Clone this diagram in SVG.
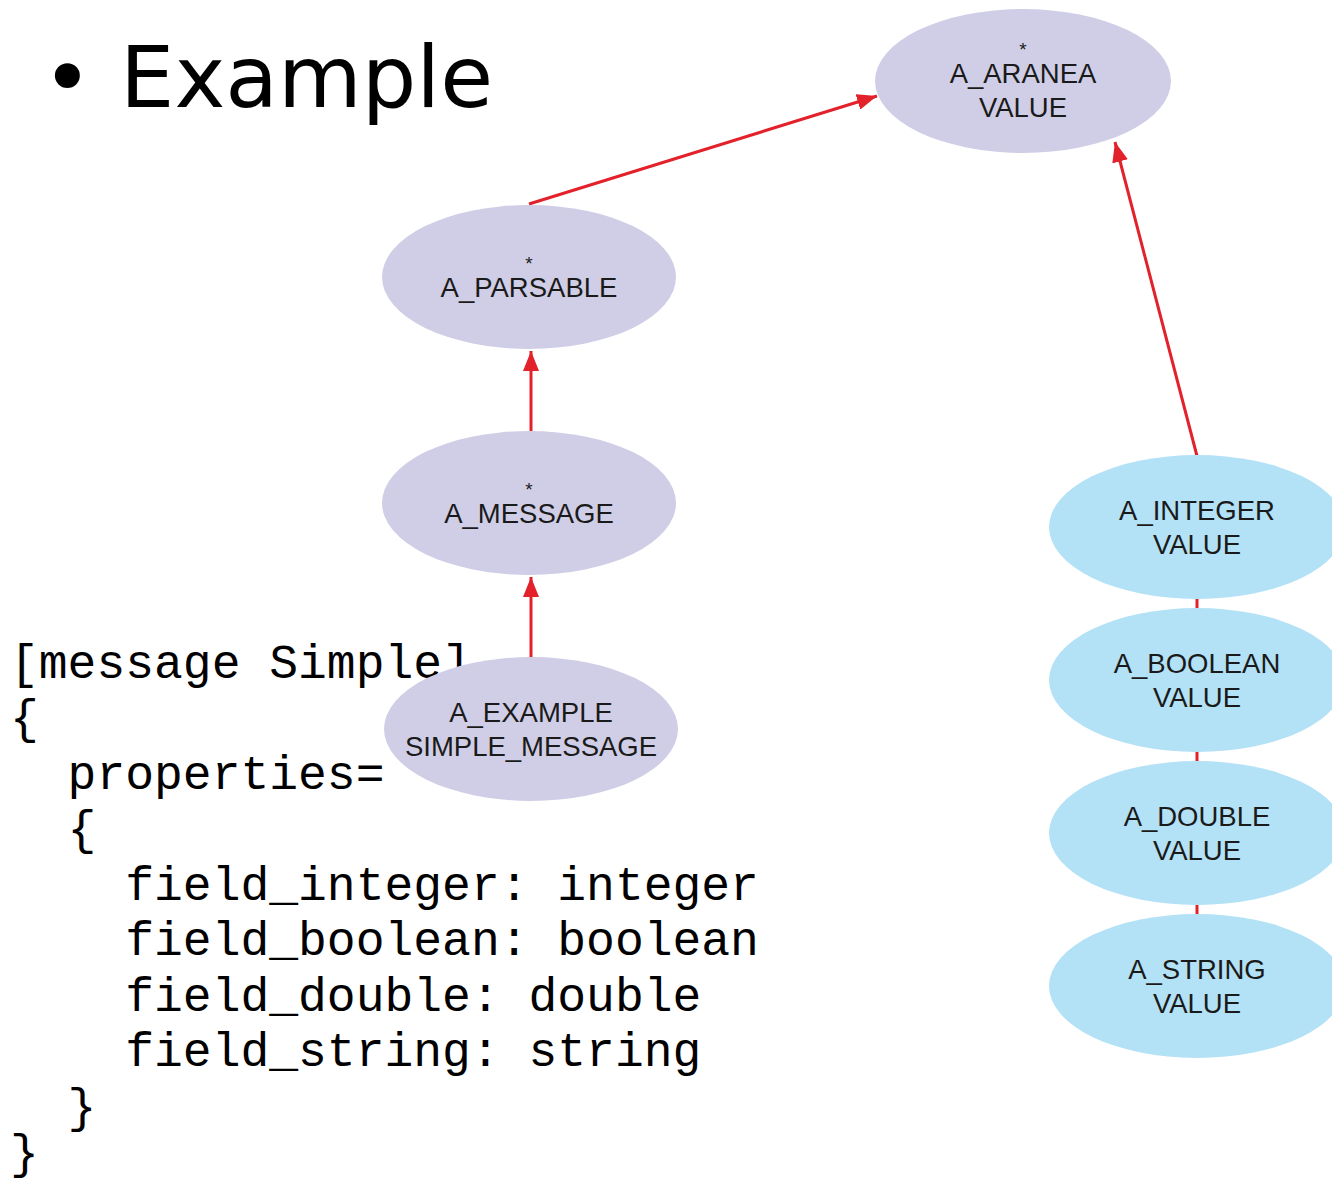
<svg xmlns="http://www.w3.org/2000/svg" width="1332" height="1183" viewBox="0 0 1332 1183">
<defs>
<style>
.p{fill:#d0cee6}
.b{fill:#b3e1f6}
.t{font-family:"Liberation Sans",Arial,sans-serif;font-size:27.5px;fill:#1a1a1a;text-anchor:middle}
.s{font-family:"Liberation Sans",Arial,sans-serif;font-size:19px;fill:#1a1a1a;text-anchor:middle}
.c{font-family:"Liberation Mono","Courier New",monospace;font-size:48px;fill:#000;white-space:pre}
.e{stroke:#e3212b;stroke-width:3;fill:none}
</style>
<marker id="ah" viewBox="0 0 20 16" refX="20" refY="8" markerWidth="20" markerHeight="16" markerUnits="userSpaceOnUse" orient="auto">
<path d="M0,0 L20,8 L0,16 z" fill="#e3212b"/>
</marker>
</defs>
<rect width="1332" height="1183" fill="#fff"/>
<g id="title">
<text x="42" y="107" font-family="DejaVu Sans,sans-serif" font-size="86" fill="#000">• Example</text>
</g>
<g id="code">
<text class="c" x="10" y="678">[message Simple]</text>
<text class="c" x="10" y="733">{</text>
<text class="c" x="10" y="789">  properties=</text>
<text class="c" x="10" y="844">  {</text>
<text class="c" x="10" y="900">    field_integer: integer</text>
<text class="c" x="10" y="955">    field_boolean: boolean</text>
<text class="c" x="10" y="1011">    field_double: double</text>
<text class="c" x="10" y="1066">    field_string: string</text>
<text class="c" x="10" y="1122">  }</text>
<text class="c" x="10" y="1168">}</text>
</g>
<g id="connectors">
<line class="e" x1="529" y1="204" x2="877" y2="96" marker-end="url(#ah)"/>
<line class="e" x1="531" y1="431" x2="531" y2="351" marker-end="url(#ah)"/>
<line class="e" x1="531" y1="657" x2="531" y2="577" marker-end="url(#ah)"/>
<line class="e" x1="1197" y1="456" x2="1115" y2="142" marker-end="url(#ah)"/>
<line class="e" x1="1197" y1="598" x2="1197" y2="610"/>
<line class="e" x1="1197" y1="751" x2="1197" y2="763"/>
<line class="e" x1="1197" y1="904" x2="1197" y2="916"/>
</g>
<g id="n-aranea">
<ellipse class="p" cx="1023" cy="81" rx="148" ry="72"/>
<text class="s" x="1023" y="56">*</text>
<text class="t" x="1023" y="83">A_ARANEA</text>
<text class="t" x="1023" y="117">VALUE</text>
</g>
<g id="n-parsable">
<ellipse class="p" cx="529" cy="277" rx="147" ry="72"/>
<text class="s" x="529" y="270">*</text>
<text class="t" x="529" y="297">A_PARSABLE</text>
</g>
<g id="n-message">
<ellipse class="p" cx="529" cy="503" rx="147" ry="72"/>
<text class="s" x="529" y="496">*</text>
<text class="t" x="529" y="523">A_MESSAGE</text>
</g>
<g id="n-example">
<ellipse class="p" cx="531" cy="729" rx="147" ry="72"/>
<text class="t" x="531" y="722">A_EXAMPLE</text>
<text class="t" x="531" y="756">SIMPLE_MESSAGE</text>
</g>
<g id="n-integer">
<ellipse class="b" cx="1197" cy="527" rx="148" ry="72"/>
<text class="t" x="1197" y="520">A_INTEGER</text>
<text class="t" x="1197" y="554">VALUE</text>
</g>
<g id="n-boolean">
<ellipse class="b" cx="1197" cy="680" rx="148" ry="72"/>
<text class="t" x="1197" y="673">A_BOOLEAN</text>
<text class="t" x="1197" y="707">VALUE</text>
</g>
<g id="n-double">
<ellipse class="b" cx="1197" cy="833" rx="148" ry="72"/>
<text class="t" x="1197" y="826">A_DOUBLE</text>
<text class="t" x="1197" y="860">VALUE</text>
</g>
<g id="n-string">
<ellipse class="b" cx="1197" cy="986" rx="148" ry="72"/>
<text class="t" x="1197" y="979">A_STRING</text>
<text class="t" x="1197" y="1013">VALUE</text>
</g>
</svg>
